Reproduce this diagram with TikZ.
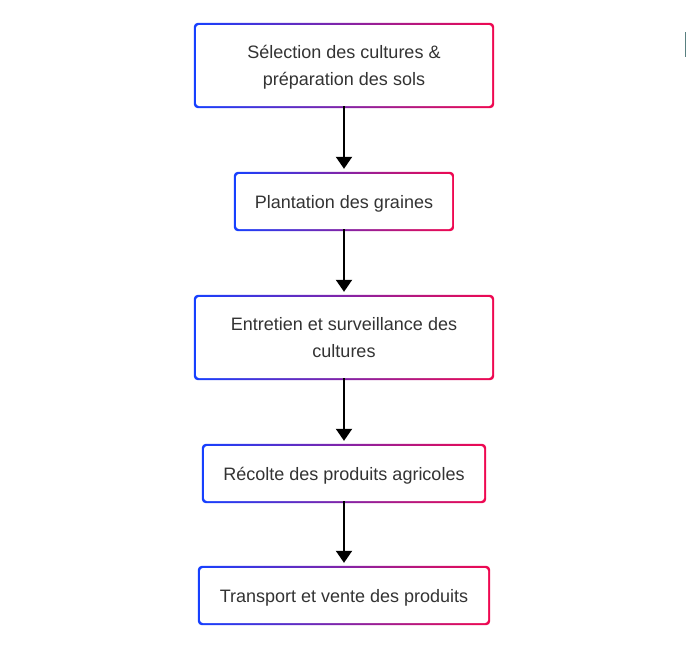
\documentclass[tikz,border=0pt]{standalone}
\usepackage{fontspec}
\setmainfont{Liberation Sans}
\usetikzlibrary{positioning,calc,arrows.meta}
\pgfdeclarelayer{background}
\pgfsetlayers{background,main}
\definecolor{leftblue}{RGB}{22,64,255}
\definecolor{rightred}{RGB}{240,8,80}
\definecolor{txtgray}{RGB}{51,51,51}

\begin{document}
\begin{tikzpicture}[x=1pt,y=-1pt,
        stepbox/.style={rectangle, rounded corners=3pt, fill=white, text=txtgray, align=center,
                        font=\fontsize{18}{27}\selectfont, inner sep=0pt, text depth=0pt},
        flow/.style={line width=2pt, -{Triangle[width=16pt,length=12pt]}, shorten >=5pt}]
            \useasboundingbox (0,0) rectangle (686,651);

            \node (s1) [stepbox, minimum width=296pt, minimum height=81pt] at (344,65.5) {Sélection des cultures \&\\préparation des sols};
            \node (s2) [stepbox, minimum width=216pt, minimum height=55pt] at (344,201.5) {Plantation des graines};
            \node (s3) [stepbox, minimum width=296pt, minimum height=81pt] at (344,337.5) {Entretien et surveillance des\\cultures};
            \node (s4) [stepbox, minimum width=280pt, minimum height=55pt] at (344,473.5) {Récolte des produits agricoles};
            \node (s5) [stepbox, minimum width=288pt, minimum height=55pt] at (344,595.5) {Transport et vente des produits};

            % gradient borders
            \begin{pgfonlayer}{background}
                \foreach \n in {s1,s2,s3,s4,s5} {
                    \shade [left color=leftblue, right color=rightred, rounded corners=4pt]
                        ($(\n.south west)+(-2pt,-2pt)$) rectangle ($(\n.north east)+(2pt,2pt)$);
                }
            \end{pgfonlayer}

            \draw [flow] (s1) -- (s2);
            \draw [flow] (s2) -- (s3);
            \draw [flow] (s3) -- (s4);
            \draw [flow] (s4) -- (s5);

            \draw [line width=1.5pt, color=gray!70!teal] (685.5,32) -- (685.5,57);
\end{tikzpicture}
\end{document}
